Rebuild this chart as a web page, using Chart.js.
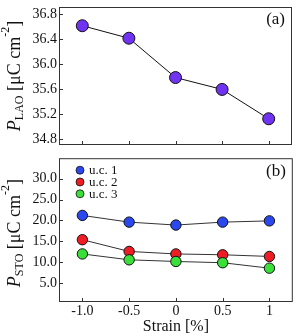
<!DOCTYPE html>
<html>
<head>
<meta charset="utf-8">
<script src="https://cdn.jsdelivr.net/npm/chart.js@4.4.0/dist/chart.umd.min.js"></script>
<style>
  html, body { margin: 0; padding: 0; background: #fff; }
  #wrap { position: relative; width: 299px; height: 336px; }
  canvas { position: absolute; left: 0; }
  #top { top: 0; }
  #bottom { top: 152px; }
</style>
</head>
<body>
<div id="wrap">
  <canvas id="top" width="299" height="152"></canvas>
  <canvas id="bottom" width="299" height="184"></canvas>
</div>
<script>
const strain = [-1, -0.5, 0, 0.5, 1];
const strainLabels = ['-1.0', '-0.5', '0', '0.5', '1'];
const laoValues = [36.62, 36.42, 35.79, 35.60, 35.13];
const uc1Values = [21.2, 19.6, 18.9, 19.6, 19.9];
const uc2Values = [15.4, 12.6, 12.0, 11.8, 11.4];
const uc3Values = [12.0, 10.6, 10.2, 9.9, 8.6];
const laoTicks = [34.8, 35.2, 35.6, 36.0, 36.4, 36.8];
const stoTicks = [5, 10, 15, 20, 25, 30];
const seriesNames = ['u.c. 1', 'u.c. 2', 'u.c. 3'];

const SERIF = '"Liberation Serif", "DejaVu Serif", serif';
const pts = vals => strain.map((x, i) => ({ x, y: vals[i] }));

// frame, inward ticks, panel letter, y title with sub/superscripts, legend
const panelPlugin = {
  id: 'panel',
  afterDraw(chart, args, opts) {
    const { ctx, chartArea: a, scales } = chart;
    ctx.save();
    ctx.strokeStyle = '#333';
    ctx.lineWidth = 1;
    ctx.strokeRect(a.left + 0.5, a.top + 0.5, a.width - 1, a.height - 1);
    ctx.beginPath();
    scales.x.ticks.forEach(t => {
      const px = Math.round(scales.x.getPixelForValue(t.value)) + 0.5;
      ctx.moveTo(px, a.bottom); ctx.lineTo(px, a.bottom - 4);
    });
    scales.y.ticks.forEach(t => {
      const py = Math.round(scales.y.getPixelForValue(t.value)) + 0.5;
      ctx.moveTo(a.left, py); ctx.lineTo(a.left + 4, py);
    });
    ctx.stroke();

    ctx.fillStyle = '#111';
    ctx.font = '17px ' + SERIF;
    ctx.textAlign = 'right';
    ctx.textBaseline = 'middle';
    ctx.fillText(opts.letter, a.right - 7, a.top + 13);

    // rotated y title
    const parts = [
      { t: 'P', f: 'italic 18px ' + SERIF, dy: 0 },
      { t: opts.sub, f: '12px ' + SERIF, dy: 3 },
      { t: ' [\u03bcC cm', f: '18px ' + SERIF, dy: 0 },
      { t: '-2', f: '12px ' + SERIF, dy: -11 },
      { t: ']', f: '18px ' + SERIF, dy: 0 },
    ];
    let total = 0;
    parts.forEach(p => { ctx.font = p.f; p.w = ctx.measureText(p.t).width; total += p.w; });
    ctx.translate(14, (a.top + a.bottom) / 2 + (opts.titleShift || 0));
    ctx.rotate(-Math.PI / 2);
    ctx.textAlign = 'left';
    ctx.textBaseline = 'alphabetic';
    let x = -total / 2;
    parts.forEach(p => { ctx.font = p.f; ctx.fillText(p.t, x, 6 + p.dy); x += p.w; });
    ctx.restore();

    if (opts.legend) {
      ctx.save();
      ctx.font = '13px ' + SERIF;
      ctx.textAlign = 'left';
      ctx.textBaseline = 'middle';
      chart.data.datasets.forEach((ds, i) => {
        const y = a.top + 12 + i * 11.8;
        ctx.beginPath();
        ctx.arc(a.left + 21, y, 4, 0, Math.PI * 2);
        ctx.fillStyle = ds.backgroundColor;
        ctx.fill();
        ctx.lineWidth = 0.8;
        ctx.strokeStyle = '#111';
        ctx.stroke();
        ctx.fillStyle = '#111';
        ctx.fillText(ds.label, a.left + 30, y + 0.5);
      });
      ctx.restore();
    }
  }
};

function xScale(showLabels) {
  return {
    type: 'linear', min: -1.25, max: 1.25,
    grid: { display: false, drawTicks: false },
    border: { display: false },
    afterBuildTicks: s => { s.ticks = strain.map(v => ({ value: v })); },
    afterFit: s => {
      s.height = showLabels ? 34 : 3;
      s.paddingLeft = 0; s.paddingRight = 0;
    },
    ticks: {
      display: showLabels, padding: 1, color: '#111', maxRotation: 0, autoSkip: false,
      font: { family: SERIF, size: 14 },
      callback: (v, i) => strainLabels[i],
    },
    title: {
      display: showLabels, text: 'Strain [%]', color: '#111',
      font: { family: SERIF, size: 16 }, padding: { top: 0, bottom: 0 },
    },
  };
}

function yScale(min, max, tickVals, digits) {
  return {
    type: 'linear', min, max,
    grid: { display: false, drawTicks: false },
    border: { display: false },
    afterBuildTicks: s => { s.ticks = tickVals.map(v => ({ value: v })); },
    afterFit: s => {
      s.width = 59;
      s.paddingTop = 0; s.paddingBottom = 0;
    },
    ticks: {
      padding: 2, color: '#111', autoSkip: false,
      font: { family: SERIF, size: 14 },
      callback: v => Number(v).toFixed(digits),
    },
  };
}

const common = {
  responsive: false,
  animation: false,
  devicePixelRatio: 1,
  layout: { padding: { left: 0, right: 2, top: 2, bottom: 0 } },
  plugins: { legend: { display: false }, tooltip: { enabled: false } },
};

new Chart(document.getElementById('top'), {
  type: 'line',
  data: {
    datasets: [{
      label: 'LAO', data: pts(laoValues),
      borderColor: '#111', borderWidth: 1,
      backgroundColor: '#7133f2', pointBackgroundColor: '#7133f2',
      pointBorderColor: '#111', pointBorderWidth: 1, pointRadius: 6,
    }],
  },
  options: {
    ...common,
    scales: { x: xScale(false), y: yScale(34.71, 36.92, laoTicks, 1) },
    plugins: { ...common.plugins, panel: { letter: '(a)', sub: 'LAO' } },
  },
  plugins: [panelPlugin],
});

const stoColors = ['#2b48ee', '#ee1c24', '#3adf3a'];
const stoSeries = [uc1Values, uc2Values, uc3Values];

new Chart(document.getElementById('bottom'), {
  type: 'line',
  data: {
    datasets: stoSeries.map((vals, i) => ({
      label: seriesNames[i], data: pts(vals), order: 2 - i,
      borderColor: '#333', borderWidth: 1,
      backgroundColor: stoColors[i], pointBackgroundColor: stoColors[i],
      pointBorderColor: '#111', pointBorderWidth: 1, pointRadius: 5.2,
    })),
  },
  options: {
    ...common,
    scales: { x: xScale(true), y: yScale(0.52, 34.87, stoTicks, 1) },
    plugins: { ...common.plugins, panel: { letter: '(b)', sub: 'STO', legend: true, titleShift: 3 } },
  },
  plugins: [panelPlugin],
});
</script>
</body>
</html>
